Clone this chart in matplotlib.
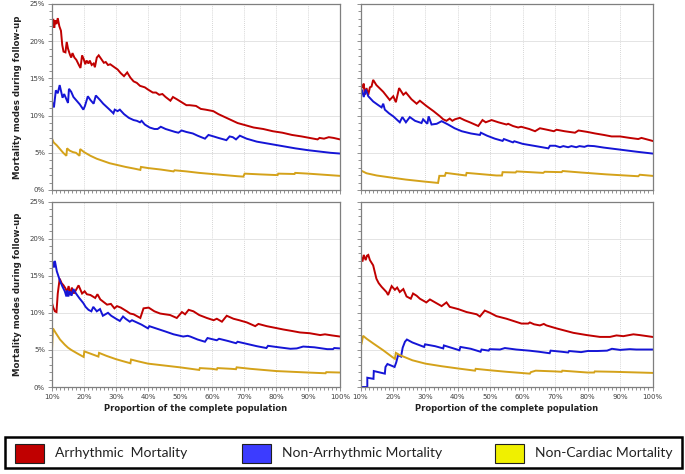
import matplotlib.pyplot as plt
from matplotlib.patches import Rectangle
from matplotlib.ticker import MultipleLocator, FuncFormatter
import numpy as np

# ---- data (x = proportion of population in %, y = mortality in %) ----
tl_arrhythmic = [(10, 22.0), (10.4, 23.0), (10.7, 21.8), (11.0, 22.8), (11.4, 22.3), (11.8, 23.1), (12.3, 22.0),
                 (12.8, 21.4), (13.2, 19.5), (13.6, 18.6), (14.2, 18.5), (14.6, 19.9), (15.0, 19.0), (15.6, 18.2),
                 (16.0, 17.8), (16.4, 18.4), (17.0, 17.8), (17.6, 17.5), (18.4, 16.8), (18.9, 16.4), (19.4, 18.1),
                 (19.9, 17.6), (20.4, 16.9), (20.8, 17.4), (21.4, 17.0), (21.8, 17.4), (22.4, 16.8), (23.0, 17.0),
                 (23.4, 16.5), (24.0, 17.8), (24.6, 18.1), (25.4, 17.6), (26.2, 17.1), (26.8, 17.2), (27.5, 16.8),
                 (28.2, 16.9), (29.5, 16.5), (30.5, 16.2), (31.5, 15.7), (32.5, 15.3), (33.5, 15.8), (34.5, 15.1),
                 (35.5, 14.6), (36.5, 14.4), (37.5, 14.0), (39.0, 13.8), (40.0, 13.5), (41.5, 13.1), (42.5, 13.1),
                 (43.5, 12.8), (44.5, 12.9), (45.5, 12.5), (47.0, 12.0), (47.8, 12.5), (49.0, 12.2), (50.5, 11.8),
                 (52.0, 11.4), (53.0, 11.4), (55.0, 11.3), (56.5, 10.9), (58.0, 10.8), (60.4, 10.6), (62.0, 10.2),
                 (64.0, 9.8), (66.0, 9.4), (68.0, 9.0), (70.5, 8.7), (73.0, 8.4), (76.0, 8.2), (79.0, 7.9),
                 (82.0, 7.7), (85.0, 7.4), (88.0, 7.2), (90.5, 7.0), (93.0, 6.8), (93.6, 7.0), (95.0, 6.9),
                 (96.5, 7.1), (98.0, 7.0), (100, 6.8)]
tl_non_arrhythmic = [(10, 11.9), (10.6, 11.1), (11.2, 13.4), (11.8, 13.0), (12.4, 14.1), (13.3, 12.4), (13.8, 12.9),
                     (14.5, 12.2), (15.0, 11.7), (15.3, 13.6), (16.0, 13.2), (16.7, 12.5), (17.7, 12.0), (18.7, 11.5),
                     (19.8, 10.8), (20.3, 11.3), (21.2, 12.6), (22.0, 12.1), (23.0, 11.6), (23.7, 12.7), (25.0, 12.1),
                     (26.0, 11.6), (27.0, 11.2), (28.0, 10.8), (29.2, 10.3), (29.6, 10.8), (30.5, 10.6), (31.2, 10.8),
                     (32.5, 10.2), (34.0, 9.7), (35.5, 9.4), (36.5, 9.3), (37.5, 9.1), (38.0, 9.3), (39.0, 8.8),
                     (40.5, 8.4), (42.0, 8.2), (43.0, 8.2), (44.0, 8.5), (45.5, 8.2), (47.0, 8.0), (48.5, 7.8),
                     (49.5, 7.7), (50.5, 8.0), (52.0, 7.8), (54.0, 7.6), (55.5, 7.3), (57.8, 6.9), (58.9, 7.4),
                     (60.5, 7.2), (62.0, 7.0), (64.5, 6.7), (65.5, 7.2), (66.5, 7.1), (67.5, 6.8), (68.7, 7.3),
                     (70.8, 6.9), (74.0, 6.5), (78.0, 6.2), (82.0, 5.9), (86.0, 5.6), (90.0, 5.35), (94.0, 5.15),
                     (97.0, 5.0), (100, 4.9)]
tl_non_cardiac = [(10, 6.9), (10.5, 6.4), (11.5, 6.0), (12.5, 5.5), (13.5, 5.0), (14.5, 4.6), (14.7, 5.6), (15.5, 5.3),
                  (16.5, 5.1), (17.5, 5.0), (18.6, 4.6), (18.8, 5.5), (20.0, 5.1), (22.0, 4.6), (24.0, 4.2),
                  (26.0, 3.9), (28.0, 3.6), (30.0, 3.4), (33.0, 3.1), (36.0, 2.85), (37.6, 2.7), (37.8, 3.1),
                  (40.0, 2.95), (44.0, 2.75), (48.0, 2.5), (48.3, 2.65), (52.0, 2.5), (56.0, 2.3), (60.0, 2.15),
                  (64.0, 2.0), (68.0, 1.85), (69.8, 1.8), (70.2, 2.2), (75.0, 2.1), (80.5, 2.0), (80.7, 2.2),
                  (85.8, 2.15), (86.0, 2.3), (90.0, 2.2), (95.0, 2.05), (100, 1.9)]

tr_arrhythmic = [(10, 14.4), (10.6, 13.7), (11.0, 14.3), (11.3, 12.8), (11.85, 13.7), (12.4, 12.8), (12.9, 13.8),
                 (13.4, 13.9), (13.9, 14.8), (14.9, 14.1), (17.0, 13.2), (19.0, 12.1), (20.1, 12.6), (20.9, 11.8),
                 (21.9, 13.7), (23.2, 12.8), (24.0, 13.1), (25.7, 12.2), (27.3, 11.6), (28.3, 12.0), (30.3, 11.3),
                 (32.5, 10.6), (34.5, 9.9), (35.5, 9.5), (36.5, 9.3), (37.5, 9.6), (38.3, 9.3), (39.1, 9.5),
                 (40.6, 9.7), (42.0, 9.4), (43.7, 9.1), (46.3, 8.6), (47.6, 9.4), (48.6, 9.1), (50.4, 9.4),
                 (52.5, 9.1), (55.0, 8.8), (55.5, 8.9), (57.0, 8.6), (58.6, 8.4), (59.5, 8.5), (62.0, 8.2),
                 (63.8, 7.9), (65.3, 8.3), (67.5, 8.1), (69.6, 7.9), (70.4, 8.1), (72.9, 7.9), (76.1, 7.7),
                 (77.2, 8.0), (80.0, 7.8), (82.3, 7.6), (85.0, 7.4), (87.4, 7.2), (90.0, 7.2), (93.0, 7.0),
                 (95.6, 6.85), (96.6, 7.0), (100, 6.6)]
tr_non_arrhythmic = [(10, 12.6), (10.4, 13.5), (11.0, 12.5), (11.6, 13.5), (12.4, 12.6), (13.9, 11.9), (15.5, 11.4),
                     (16.5, 11.1), (17.0, 11.6), (17.5, 10.8), (18.8, 10.3), (20.1, 9.9), (22.1, 9.1), (22.9, 9.8),
                     (24.0, 9.1), (25.2, 9.8), (26.8, 9.3), (28.8, 9.0), (29.3, 9.5), (30.6, 8.9), (31.0, 9.9),
                     (31.9, 8.8), (33.5, 8.9), (35.0, 9.25), (37.0, 8.8), (39.0, 8.3), (41.2, 7.9), (44.0, 7.6),
                     (46.8, 7.4), (47.1, 7.7), (49.0, 7.3), (51.4, 6.9), (53.8, 6.6), (54.2, 6.85), (57.0, 6.4),
                     (57.4, 6.55), (60.0, 6.2), (64.0, 5.9), (67.9, 5.6), (68.4, 5.95), (70.0, 5.95), (71.5, 5.75),
                     (72.5, 5.9), (74.0, 5.75), (75.0, 5.9), (76.5, 5.75), (77.5, 5.9), (79.0, 5.8), (80.0, 5.95),
                     (82.0, 5.9), (85.0, 5.7), (90.5, 5.4), (95.0, 5.15), (100, 4.9)]
tr_non_cardiac = [(10, 2.65), (11.85, 2.25), (15.0, 1.95), (19.0, 1.7), (24.0, 1.4), (29.3, 1.15), (33.9, 0.95),
                  (34.3, 1.9), (36.0, 1.9), (36.3, 2.3), (42.5, 1.95), (42.7, 2.3), (48.0, 2.1), (51.9, 1.95),
                  (53.6, 1.95), (53.8, 2.4), (57.8, 2.35), (58.1, 2.5), (66.3, 2.3), (66.8, 2.45), (72.0, 2.4),
                  (72.3, 2.55), (78.0, 2.35), (85.8, 2.1), (95.6, 1.85), (96.1, 2.05), (100, 1.9)]

bl_arrhythmic = [(10, 11.3), (10.4, 10.7), (10.9, 10.2), (11.4, 10.1), (11.8, 12.6), (12.4, 14.6), (13.0, 14.0),
                 (13.6, 13.7), (14.2, 13.3), (14.7, 12.8), (15.2, 13.6), (15.7, 12.4), (16.2, 13.4), (16.8, 12.6),
                 (17.4, 13.0), (18.3, 13.7), (19.4, 12.6), (20.2, 12.9), (20.9, 12.5), (22.0, 12.4), (23.5, 12.0),
                 (24.2, 12.5), (25.1, 11.8), (26.0, 11.5), (27.2, 11.1), (28.4, 11.2), (29.5, 10.6), (30.3, 10.9),
                 (31.5, 10.7), (33.4, 10.2), (34.4, 9.9), (35.5, 9.8), (37.6, 9.3), (38.6, 10.6), (40.2, 10.7),
                 (42.0, 10.2), (43.8, 9.9), (45.3, 9.8), (46.9, 9.7), (49.0, 9.3), (50.6, 10.1), (51.6, 9.8),
                 (52.7, 10.4), (54.2, 10.2), (56.0, 9.7), (58.4, 9.3), (60.5, 9.0), (61.5, 9.2), (63.1, 8.8),
                 (64.6, 9.6), (66.7, 9.2), (68.5, 9.0), (70.9, 8.7), (73.0, 8.3), (73.5, 8.2), (74.5, 8.5),
                 (77.1, 8.2), (80.0, 7.95), (82.3, 7.75), (85.0, 7.55), (87.5, 7.35), (90.5, 7.25), (93.8, 7.0),
                 (95.3, 7.1), (97.5, 6.95), (100, 6.8)]
bl_non_arrhythmic = [(10, 16.4), (10.2, 16.9), (10.6, 16.1), (10.9, 17.0), (11.5, 15.6), (12.5, 14.3), (13.3, 13.5),
                     (14.0, 12.9), (14.5, 12.2), (14.8, 13.0), (15.1, 12.2), (15.6, 12.9), (16.1, 12.3), (16.7, 13.2),
                     (17.5, 12.6), (18.5, 12.0), (19.8, 11.3), (20.5, 10.8), (21.4, 10.4), (22.3, 10.2), (22.9, 10.8),
                     (24.0, 10.2), (25.0, 10.5), (25.9, 9.6), (27.5, 10.0), (28.5, 9.6), (30.0, 9.2), (31.2, 8.9),
                     (32.2, 9.5), (33.0, 9.2), (34.3, 8.8), (35.0, 9.0), (36.5, 8.7), (38.0, 8.4), (40.0, 7.9),
                     (40.4, 8.2), (42.5, 7.9), (45.3, 7.5), (48.0, 7.1), (51.0, 6.8), (52.4, 6.9), (53.2, 6.8),
                     (55.5, 6.4), (57.8, 6.1), (58.6, 6.6), (60.5, 6.4), (61.5, 6.3), (62.2, 6.5), (65.0, 6.2),
                     (67.5, 5.9), (68.0, 6.1), (71.0, 5.8), (74.0, 5.5), (77.0, 5.25), (77.5, 5.55), (80.0, 5.4),
                     (84.5, 5.15), (86.5, 5.2), (88.5, 5.45), (92.0, 5.35), (96.0, 5.1), (97.8, 5.1), (98.2, 5.25),
                     (100, 5.2)]
bl_non_cardiac = [(10, 5.0), (10.3, 7.9), (11.0, 7.4), (12.5, 6.4), (14.0, 5.7), (15.0, 5.3), (16.0, 5.0), (18.0, 4.5),
                  (19.9, 4.05), (20.1, 4.8), (22.0, 4.5), (24.5, 4.1), (24.7, 4.6), (27.0, 4.2), (30.0, 3.75),
                  (32.0, 3.5), (34.5, 3.2), (34.7, 3.7), (37.0, 3.45), (40.0, 3.15), (45.0, 2.9), (50.0, 2.65),
                  (56.0, 2.3), (56.2, 2.55), (60.0, 2.45), (61.5, 2.35), (61.7, 2.55), (66.0, 2.45), (67.5, 2.4),
                  (67.7, 2.65), (72.0, 2.45), (76.0, 2.3), (80.0, 2.15), (85.0, 2.05), (90.0, 1.95), (95.5, 1.85),
                  (95.7, 2.0), (100, 1.95)]

br_arrhythmic = [(10, 17.8), (10.6, 16.9), (11.0, 17.8), (11.6, 17.1), (12.0, 17.7), (12.4, 17.8), (12.9, 17.1),
                 (13.9, 16.4), (14.9, 14.6), (15.6, 14.0), (16.5, 13.5), (18.0, 12.8), (18.5, 12.4), (19.6, 13.6),
                 (20.6, 13.1), (21.3, 13.4), (22.1, 12.8), (23.2, 13.2), (24.2, 12.2), (25.5, 11.9), (26.2, 12.6),
                 (27.3, 12.3), (28.3, 11.9), (30.3, 11.4), (31.4, 11.8), (33.4, 11.3), (35.0, 10.9), (36.5, 11.4),
                 (37.5, 10.8), (40.1, 10.5), (42.7, 10.1), (45.8, 9.8), (46.8, 9.5), (48.3, 10.3), (49.9, 10.0),
                 (51.9, 9.55), (55.0, 9.2), (59.6, 8.55), (61.7, 8.55), (62.2, 8.7), (63.5, 8.45), (65.3, 8.3),
                 (66.5, 8.5), (67.3, 8.3), (70.4, 7.9), (75.6, 7.3), (79.7, 7.0), (83.8, 6.75), (86.9, 6.75),
                 (88.9, 6.95), (91.0, 6.85), (94.1, 7.1), (96.0, 7.0), (100, 6.75)]
br_non_arrhythmic = [(10, 0.0), (12.1, 0.0), (12.1, 1.25), (14.0, 1.1), (14.1, 2.15), (17.5, 1.8), (17.7, 2.7),
                     (18.3, 3.1), (20.5, 2.7), (21.0, 3.3), (21.6, 4.3), (22.5, 4.1), (23.0, 5.3), (23.7, 6.1),
                     (24.3, 6.4), (26.0, 6.0), (29.6, 5.4), (29.9, 5.75), (33.0, 5.5), (35.5, 5.2), (35.7, 5.6),
                     (40.5, 4.95), (40.8, 5.4), (44.0, 5.15), (47.0, 4.75), (47.3, 5.05), (49.5, 4.9), (49.8, 5.1),
                     (53.0, 5.05), (54.5, 5.25), (58.0, 5.05), (62.0, 4.9), (65.0, 4.75), (68.3, 4.55), (68.6, 4.9),
                     (72.0, 4.75), (74.0, 4.65), (74.3, 4.85), (78.0, 4.7), (80.0, 4.85), (83.0, 4.85), (86.0, 4.9),
                     (87.5, 5.15), (90.0, 5.0), (93.0, 5.1), (95.0, 5.05), (100, 5.05)]
br_non_cardiac = [(10, 5.5), (10.3, 5.8), (10.8, 6.9), (11.9, 6.5), (14.0, 5.85), (17.0, 4.95), (19.6, 4.1),
                  (20.6, 3.8), (20.9, 4.6), (22.1, 4.3), (26.0, 3.6), (30.0, 3.15), (35.0, 2.8), (40.0, 2.5),
                  (45.3, 2.2), (45.5, 2.45), (50.0, 2.25), (55.0, 2.05), (62.2, 1.8), (62.5, 2.0), (64.0, 2.2),
                  (70.0, 2.1), (72.0, 2.05), (72.2, 2.2), (80.0, 1.95), (82.0, 1.95), (82.2, 2.1), (88.0, 2.05),
                  (100, 1.9)]

series_names = ['Arrhythmic  Mortality', 'Non-Arrhythmic Mortality', 'Non-Cardiac Mortality']
line_colors = ['#c00000', '#1515d6', '#d4a21a']
patch_colors = ['#c00000', '#3c3cff', '#f0f000']

panels = [
    ([tl_arrhythmic, tl_non_arrhythmic, tl_non_cardiac], [52, 4, 288, 186], False, True),
    ([tr_arrhythmic, tr_non_arrhythmic, tr_non_cardiac], [360.5, 4, 292, 186], False, False),
    ([bl_arrhythmic, bl_non_arrhythmic, bl_non_cardiac], [52, 201.5, 288, 185.5], True, True),
    ([br_arrhythmic, br_non_arrhythmic, br_non_cardiac], [360.5, 201.5, 292, 185.5], True, False),
]

W, H = 685, 474
fig = plt.figure(figsize=(W / 100, H / 100), dpi=100)
pct = FuncFormatter(lambda v, p: f'{v:.0f}%')

for series, (px, py, pw, ph), show_x, show_y in panels:
    ax = fig.add_axes([px / W, 1 - (py + ph) / H, pw / W, ph / H])
    for pts, col in zip(series, line_colors):
        arr = np.array(pts)
        ax.plot(arr[:, 0], arr[:, 1], color=col, lw=1.4, solid_joinstyle='miter')
    ax.set_xlim(10, 100)
    ax.set_ylim(0, 25)
    ax.xaxis.set_major_locator(MultipleLocator(10))
    ax.xaxis.set_minor_locator(MultipleLocator(1.25))
    ax.yaxis.set_major_locator(MultipleLocator(5))
    ax.yaxis.set_minor_locator(MultipleLocator(1))
    ax.xaxis.set_major_formatter(pct)
    ax.yaxis.set_major_formatter(pct)
    ax.grid(axis='x', which='major', color='#c8c8c8', lw=0.6, ls=(0, (1, 1.5)))
    ax.grid(axis='y', which='major', color='#e4e4e4', lw=0.7)
    ax.set_axisbelow(True)
    for s in ax.spines.values():
        s.set_color('#7f7f7f')
        s.set_linewidth(0.9)
    ax.tick_params(which='both', direction='out', color='#7f7f7f', width=0.6,
                   labelsize=5, labelcolor='#404040', pad=2)
    ax.tick_params(which='major', length=3)
    ax.tick_params(which='minor', length=2)
    if not show_x:
        ax.tick_params(axis='x', labelbottom=False)
    else:
        ax.set_xlabel('Proportion of the complete population', fontsize=6, fontweight='bold',
                      color='#222222', labelpad=3)
    if not show_y:
        ax.tick_params(axis='y', labelleft=False)
    else:
        ax.set_ylabel('Mortality modes during follow-up', fontsize=6.2, fontweight='bold',
                      color='#222222', labelpad=5)

# legend box drawn in figure pixels
fig.add_artist(Rectangle((5 / W, 1 - 468 / H), 677 / W, 31 / H, transform=fig.transFigure,
                         facecolor='white', edgecolor='black', lw=1.8))
patch_x = [15, 242, 495]
for name, col, x0 in zip(series_names, patch_colors, patch_x):
    fig.add_artist(Rectangle((x0 / W, 1 - 463 / H), 29 / W, 19 / H, transform=fig.transFigure,
                             facecolor=col, edgecolor='#202020', lw=0.8))
    fig.text((x0 + 40) / W, 1 - 453 / H, name, fontsize=10, family='Lato',
             va='center', ha='left', color='#222222')

fig.savefig('out.png', dpi=100)
